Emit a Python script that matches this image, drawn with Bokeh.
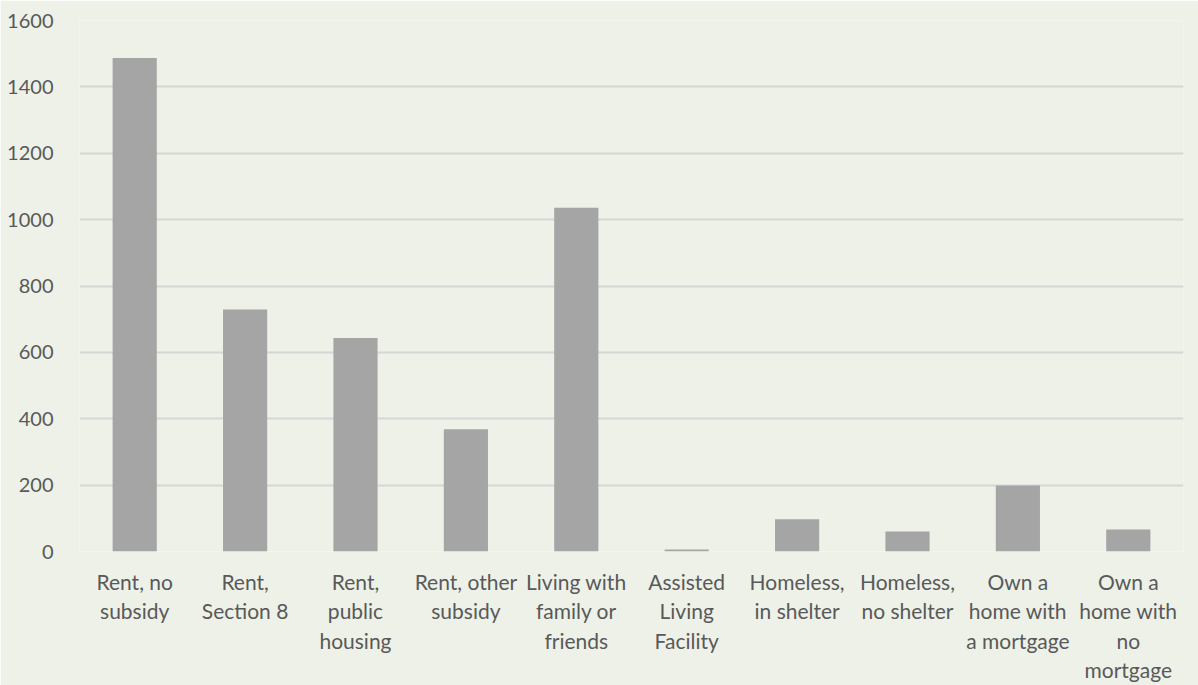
from bokeh.plotting import figure
from bokeh.models import Range1d, FixedTicker
from bokeh.embed import file_html
from bokeh.resources import INLINE

categories = ["Rent, no\nsubsidy", "Rent,\nSection 8", "Rent,\npublic\nhousing",
              "Rent, other\nsubsidy", "Living with\nfamily or\nfriends",
              "Assisted\nLiving\nFacility", "Homeless,\nin shelter",
              "Homeless,\nno shelter", "Own a\nhome with\na mortgage",
              "Own a\nhome with\nno\nmortgage"]
counts = [1487, 729, 643, 368, 1036, 6, 97, 60, 199, 66]
y_ticks = [0, 200, 400, 600, 800, 1000, 1200, 1400, 1600]

BG = "#edf1e8"
TXT = "#595959"
FONT = "Lato"

p = figure(x_range=categories, y_range=Range1d(0, 1600), width=1198, height=685,
           output_backend="svg", toolbar_location=None,
           min_border_left=79, min_border_right=15, min_border_top=20, min_border_bottom=134)
p.background_fill_color = BG
p.border_fill_color = BG
p.outline_line_color = None

p.vbar(x=categories, top=counts, width=0.4, color="#a5a5a5", line_color=None)

p.yaxis.ticker = FixedTicker(ticks=y_ticks)
p.ygrid.ticker = FixedTicker(ticks=y_ticks)
p.ygrid.grid_line_color = "#d6d6d6"
p.ygrid.grid_line_width = 2
p.xgrid.grid_line_color = None

for ax in (p.xaxis, p.yaxis):
    ax.axis_line_color = None
    ax.major_tick_line_color = None
    ax.minor_tick_line_color = None
    ax.major_label_text_color = TXT
    ax.major_label_text_font = FONT
    ax.major_label_text_font_size = "20px"

p.xaxis.major_label_text_font_size = "21px"
p.yaxis.major_label_standoff = 20
p.xaxis.major_label_standoff = 11
p.xaxis.major_label_text_line_height = 1.18

open("out.html", "w").write(file_html(p, INLINE))
